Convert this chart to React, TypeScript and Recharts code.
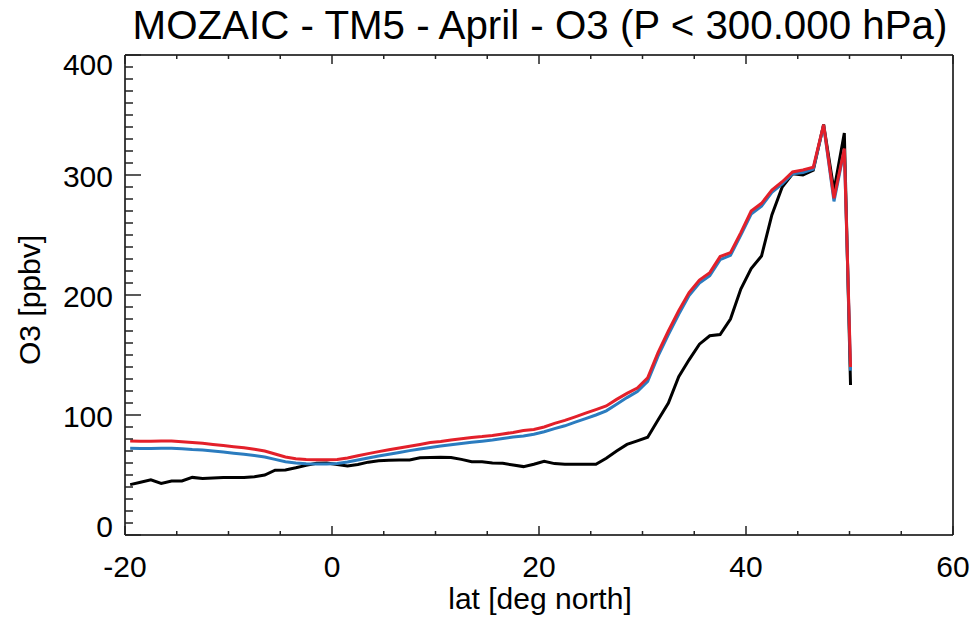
import React from 'react';
import { LineChart, Line, XAxis, YAxis } from 'recharts';

/* =======================
   Data
======================= */

const lat = [
  -19.5, -18.5, -17.5, -16.5, -15.5, -14.5, -13.5, -12.5, -11.5, -10.5,
  -9.5, -8.5, -7.5, -6.5, -5.5, -4.5, -3.5, -2.5, -1.5, -0.5,
  0.5, 1.5, 2.5, 3.5, 4.5, 5.5, 6.5, 7.5, 8.5, 9.5,
  10.5, 11.5, 12.5, 13.5, 14.5, 15.5, 16.5, 17.5, 18.5, 19.5,
  20.5, 21.5, 22.5, 23.5, 24.5, 25.5, 26.5, 27.5, 28.5, 29.5,
  30.5, 31.5, 32.5, 33.5, 34.5, 35.5, 36.5, 37.5, 38.5, 39.5,
  40.5, 41.5, 42.5, 43.5, 44.5, 45.5, 46.5, 47.5, 48.5, 49.5,
  50.1,
];

// MOZAIC observations (black)
const mozaic = [
  42, 44, 46, 43, 45, 45, 48, 47, 47.5, 48,
  48, 48, 48.6, 50, 54, 54.2, 56, 58, 59.7, 60,
  58.8, 57.5, 58.8, 60.7, 61.9, 62.3, 62.5, 62.5, 64.4, 64.6,
  64.7, 64.6, 63, 61, 61, 60, 59.7, 58.3, 57, 59,
  61.5, 59.5, 59, 59, 58.9, 58.9, 64, 70, 75.5, 78.5,
  81.5, 95.8, 110, 132, 146, 159, 166, 167, 180, 205,
  222, 232.5, 266.7, 290, 301, 300, 304, 342, 287, 335,
  125,
];

// TM5 run (blue)
const tm5Blue = [
  72.2, 72.1, 72, 72.2, 72.2, 71.8, 71.2, 70.8, 70, 69.2,
  68.2, 67.3, 66.2, 65, 63, 61, 60, 59.4, 59.2, 59.2,
  59.5, 60.8, 62.5, 64.2, 65.8, 67.3, 68.8, 70.3, 71.6, 73,
  74.2, 75.3, 76.3, 77.2, 78.2, 79.2, 80.5, 81.6, 82.5, 84,
  86, 88.6, 91, 94, 97, 100, 103.5, 109, 114.5, 119.5,
  128, 149, 167, 184, 199.5, 210, 216, 229.5, 233, 250,
  267.5, 274, 285.5, 292.5, 301, 302, 305, 341.5, 278, 321,
  137,
];

// TM5 run (red)
const tm5Red = [
  78.3, 78.2, 78.2, 78.4, 78.3, 77.7, 77, 76.4, 75.5, 74.6,
  73.6, 72.7, 71.5, 70, 67.5, 65, 63.6, 63, 62.8, 62.8,
  63, 64.2, 66, 67.8, 69.5, 71, 72.5, 74, 75.5, 77,
  78, 79.2, 80.2, 81.2, 82, 83, 84.2, 85.5, 87, 88,
  90, 93, 95.5, 98.5, 101.5, 104.5, 107.5, 113, 118, 122.5,
  131, 152, 170, 187, 202, 212.5, 218.6, 232, 235.3, 252,
  270, 276.4, 287.5, 294.4, 302.5, 304.2, 306.4, 342, 280.6, 322,
  140,
];

const xMajor = [-20, 0, 20, 40, 60];
const yMajor = [0, 100, 200, 300, 400];

const TITLE = 'MOZAIC - TM5 - April - O3 (P < 300.000 hPa)';
const X_TITLE = 'lat [deg north]';
const Y_TITLE = 'O3 [ppbv]';

/* =======================
   Setup
======================= */

const FONT = '"Liberation Sans", Arial, Helvetica, sans-serif';
const W = 976;
const H = 622;

const data = lat.map((l, i) => ({
  lat: l,
  mozaic: mozaic[i],
  blue: tm5Blue[i],
  red: tm5Red[i],
}));

// minor ticks every 5 deg on x, every 10 ppbv on y
const xTicks: number[] = [];
for (let v = -20; v <= 60; v += 5) xTicks.push(v);
const yTicks: number[] = [];
for (let v = 0; v <= 400; v += 10) yTicks.push(v);

const TICK_COLOR = '#222';

/* ---------- custom ticks (IDL style, pointing inward) ---------- */

const BottomTick = (props: any) => {
  const { x, y, payload } = props;
  const major = xMajor.includes(payload.value);
  return (
    <g>
      <line x1={x} y1={y} x2={x} y2={y - (major ? 9 : 4)} stroke={TICK_COLOR} strokeWidth={1.5} />
      {major && (
        <text x={x} y={y + 42} textAnchor="middle" fontSize={30} fontFamily={FONT} fill="#000">
          {payload.value}
        </text>
      )}
    </g>
  );
};

const TopTick = (props: any) => {
  const { x, y, payload } = props;
  const major = xMajor.includes(payload.value);
  return <line x1={x} y1={y} x2={x} y2={y + (major ? 9 : 4)} stroke={TICK_COLOR} strokeWidth={1.5} />;
};

const LeftTick = (props: any) => {
  const { x, y, payload } = props;
  const major = yMajor.includes(payload.value);
  // end labels are pulled inside the axis range
  let dy = 12;
  if (payload.value === 400) dy = 20;
  if (payload.value === 0) dy = 2;
  return (
    <g>
      <line x1={x} y1={y} x2={x + (major ? 16 : 8)} y2={y} stroke={TICK_COLOR} strokeWidth={1.5} />
      {major && (
        <text x={x - 12} y={y + dy} textAnchor="end" fontSize={30} fontFamily={FONT} fill="#000">
          {payload.value}
        </text>
      )}
    </g>
  );
};

const RightTick = (props: any) => {
  const { x, y, payload } = props;
  const major = yMajor.includes(payload.value);
  return <line x1={x} y1={y} x2={x - (major ? 16 : 8)} y2={y} stroke={TICK_COLOR} strokeWidth={1.5} />;
};

/* =======================
   Component
======================= */

const App: React.FC = () => {
  const axisLine = { stroke: '#000', strokeWidth: 1.5 };

  return (
    <div style={{ position: 'absolute', left: 0, top: 0, width: W, height: H, background: '#fff' }}>
      <LineChart
        width={W}
        height={H}
        data={data}
        margin={{ top: 54, right: 22, bottom: 37, left: 65 }}
        style={{ fontFamily: FONT }}
      >
        <XAxis
          xAxisId="bottom"
          orientation="bottom"
          dataKey="lat"
          type="number"
          domain={[-20, 60]}
          ticks={xTicks}
          interval={0}
          height={50}
          tickSize={0}
          tickMargin={0}
          tickLine={false}
          axisLine={axisLine}
          tick={(p: any) => <BottomTick {...p} />}
        />
        <XAxis
          xAxisId="top"
          orientation="top"
          dataKey="lat"
          type="number"
          domain={[-20, 60]}
          ticks={xTicks}
          interval={0}
          height={1}
          tickSize={0}
          tickMargin={0}
          tickLine={false}
          axisLine={axisLine}
          tick={(p: any) => <TopTick {...p} />}
        />
        <YAxis
          yAxisId="left"
          orientation="left"
          type="number"
          domain={[0, 400]}
          ticks={yTicks}
          interval={0}
          width={60}
          tickSize={0}
          tickMargin={0}
          tickLine={false}
          axisLine={axisLine}
          tick={(p: any) => <LeftTick {...p} />}
        />
        <YAxis
          yAxisId="right"
          orientation="right"
          type="number"
          domain={[0, 400]}
          ticks={yTicks}
          interval={0}
          width={1}
          tickSize={0}
          tickMargin={0}
          tickLine={false}
          axisLine={axisLine}
          tick={(p: any) => <RightTick {...p} />}
        />

        <Line
          xAxisId="bottom"
          yAxisId="left"
          type="linear"
          dataKey="mozaic"
          stroke="#000000"
          strokeWidth={3}
          dot={false}
          isAnimationActive={false}
        />
        <Line
          xAxisId="bottom"
          yAxisId="left"
          type="linear"
          dataKey="blue"
          stroke="#2b7cbf"
          strokeWidth={3}
          dot={false}
          isAnimationActive={false}
        />
        <Line
          xAxisId="bottom"
          yAxisId="left"
          type="linear"
          dataKey="red"
          stroke="#e3202a"
          strokeWidth={3}
          dot={false}
          isAnimationActive={false}
        />
      </LineChart>

      {/* titles */}
      <svg
        width={W}
        height={H}
        style={{ position: 'absolute', left: 0, top: 0, pointerEvents: 'none' }}
      >
        <text x={540} y={39} textAnchor="middle" fontSize={40.3} fontFamily={FONT} fill="#000">
          {TITLE}
        </text>
        <text x={540} y={609} textAnchor="middle" fontSize={30} fontFamily={FONT} fill="#000">
          {X_TITLE}
        </text>
        <text
          x={0}
          y={0}
          transform="translate(40,300) rotate(-90)"
          textAnchor="middle"
          fontSize={30}
          fontFamily={FONT}
          fill="#000"
        >
          {Y_TITLE}
        </text>
      </svg>
    </div>
  );
};

export default App;
